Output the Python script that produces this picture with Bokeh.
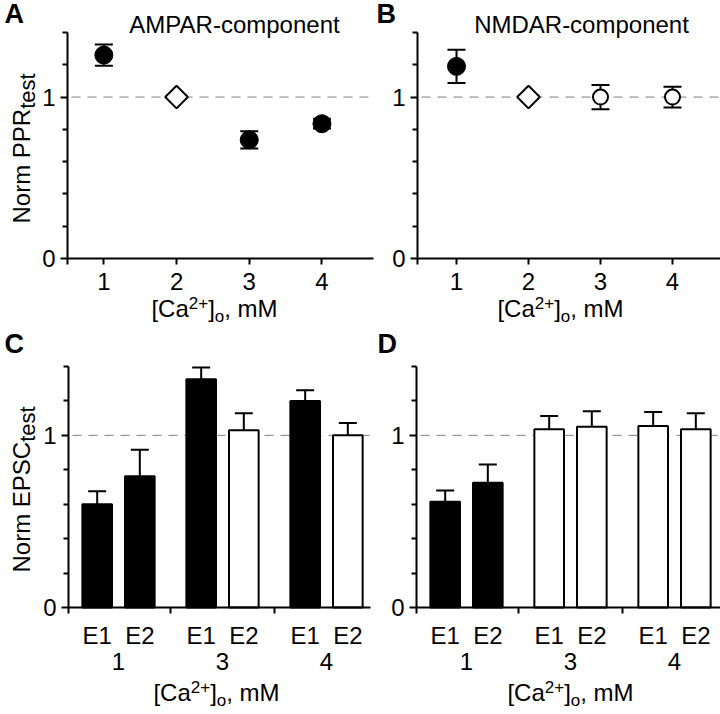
import math
from bokeh.plotting import figure
from bokeh.models import (Range1d, FixedTicker, LinearAxis, Whisker,
                          TeeHead, ColumnDataSource, Label)
from bokeh.layouts import gridplot
from bokeh.embed import file_html
from bokeh.resources import INLINE

# ---------------- data ----------------
ca_levels = [1, 2, 3, 4]            # [Ca2+]o, mM
control_level = 2                   # normalisation condition (diamond)
norm_level = 1.0

ampar_ppr = [1.26, 1.00, 0.735, 0.835]
ampar_ppr_sem = [0.066, 0.0, 0.054, 0.03]
ampar_ppr_sig = [True, False, True, True]

nmdar_ppr = [1.19, 1.00, 1.00, 1.00]
nmdar_ppr_sem = [0.103, 0.0, 0.075, 0.064]
nmdar_ppr_sig = [True, False, False, False]

epsc_groups = ["1", "3", "4"]       # [Ca2+]o, mM
epsc_stim = ["E1", "E2"]

ampar_e1 = [0.60, 1.326, 1.20]
ampar_e1_sem = [0.075, 0.068, 0.062]
ampar_e1_sig = [True, True, True]
ampar_e2 = [0.763, 1.029, 1.00]
ampar_e2_sem = [0.154, 0.10, 0.072]
ampar_e2_sig = [True, False, False]

nmdar_e1 = [0.615, 1.035, 1.055]
nmdar_e1_sem = [0.065, 0.078, 0.08]
nmdar_e1_sig = [True, False, False]
nmdar_e2 = [0.725, 1.05, 1.035]
nmdar_e2_sem = [0.105, 0.09, 0.094]
nmdar_e2_sig = [True, False, False]

y_major_ticks = [0, 1]
y_minor_ticks = [0.2, 0.4, 0.6, 0.8, 1.2, 1.4]
y_limits = (0, 1.4)

# ---------------- styling ----------------
FONT = "Liberation Sans"
TXT = 24
SUP = 17
SUB_Y = 22
MID = 0.35   # distance baseline -> middle of the em box, in em

ADV = {'[': 278, 'C': 722, 'a': 556, '2': 556, '+': 584, ']': 278, 'o': 556,
       ',': 278, ' ': 278, 'm': 833, 'M': 833, 'N': 722, 'r': 333, 'P': 667,
       'R': 722, 'E': 667, 'S': 667, 't': 278, 'e': 556, 's': 500}


def text_width(s, size):
    return sum(ADV.get(c, 556) for c in s) * size / 1000.0


def style_axis(ax):
    ax.axis_line_color = "black"
    ax.axis_line_width = 2
    ax.major_tick_line_color = "black"
    ax.major_tick_line_width = 2
    ax.minor_tick_line_color = "black"
    ax.minor_tick_line_width = 2
    ax.major_tick_in = 0
    ax.minor_tick_in = 0
    ax.major_tick_out = 6
    ax.minor_tick_out = 5
    ax.major_label_text_font = FONT
    ax.major_label_text_font_size = f"{TXT}px"
    ax.major_label_text_color = "black"


class Panel:
    """One figure; the frame fills it and the axes are pinned at fixed data places."""

    def __init__(self, ox, oy, w, h, xa, xa_px, xs, y0_px, ys, x_axis_px):
        self.xa, self.xa_px, self.xs = xa, xa_px, xs
        self.y0_px, self.ys = y0_px, ys
        xr = (self.X(ox), self.X(ox + w))
        yr = (self.Y(oy + h), self.Y(oy))
        self.xb = (self.X(x_axis_px[0]), self.X(x_axis_px[1]))
        p = figure(width=w, height=h, x_range=Range1d(*xr), y_range=Range1d(*yr),
                   output_backend="svg", toolbar_location=None, tools="",
                   min_border=0, min_border_left=0, min_border_right=0,
                   min_border_top=0, min_border_bottom=0)
        p.title.visible = False
        p.outline_line_color = None
        p.xgrid.visible = False
        p.ygrid.visible = False
        p.background_fill_color = "white"
        p.border_fill_color = "white"
        xax, yax = p.xaxis[0], p.yaxis[0]
        style_axis(xax)
        style_axis(yax)
        xax.fixed_location = y_limits[0]
        xax.bounds = self.xb
        yax.fixed_location = self.xb[0]
        yax.bounds = y_limits
        yax.ticker = FixedTicker(ticks=y_major_ticks, minor_ticks=y_minor_ticks)
        yax.major_label_standoff = 5
        yax.major_tick_out = 7
        # dashed reference line at the normalised level
        p.segment(x0=[self.xb[0]], x1=[self.xb[1]], y0=[norm_level], y1=[norm_level],
                  line_color="#808080", line_width=1, line_dash="9 7",
                  line_dash_offset=-4, level="underlay")
        self.p = p

    def X(self, px):
        return self.xa + (px - self.xa_px) / self.xs

    def Y(self, py):
        return (self.y0_px - py) / self.ys

    def label(self, px, py, text, size, bold=False, align="left", angle=0.0):
        """(px, py) is the baseline anchor on the page; Bokeh is given the em middle."""
        shift = MID * size
        if angle:
            px, py = px - shift, py
        else:
            px, py = px, py - shift
        self.p.add_layout(Label(x=self.X(px), y=self.Y(py), text=text,
                                text_font=FONT, text_font_size=f"{size}px",
                                text_font_style="bold" if bold else "normal",
                                text_align=align, text_baseline="middle",
                                text_color="black", angle=angle))


def ca_axis_label(panel, center_px, base_py):
    pieces = [("[Ca", TXT, 0), ("2+", SUP, -8), ("]", TXT, 0), ("o", SUP, 6), (", mM", TXT, 0)]
    total = sum(text_width(t, s) for t, s, _ in pieces)
    x = center_px - total / 2
    for t, s, dy in pieces:
        panel.label(x, base_py + dy, t, s)
        x += text_width(t, s)


def y_label(panel, base_px, start_py, main):
    panel.label(base_px, start_py, main, TXT, angle=math.pi / 2)
    panel.label(base_px + 6, start_py - text_width(main, TXT), "test", SUB_Y, angle=math.pi / 2)


def head():
    return TeeHead(size=18, line_width=2, line_color="black")


def ppr_panel(panel, values, sems, sig):
    p = panel.p
    n = len(ca_levels)
    err = [i for i in range(n) if sems[i] > 0]
    src = ColumnDataSource(dict(base=[ca_levels[i] for i in err],
                                upper=[values[i] + sems[i] for i in err],
                                lower=[values[i] - sems[i] for i in err]))
    p.add_layout(Whisker(source=src, base="base", upper="upper", lower="lower",
                         line_width=2, line_color="black",
                         upper_head=head(), lower_head=head(), level="underlay"))
    ctrl = [i for i in range(n) if ca_levels[i] == control_level]
    filled = [i for i in range(n) if sig[i] and i not in ctrl]
    hollow = [i for i in range(n) if not sig[i] and i not in ctrl]
    p.scatter(x=[ca_levels[i] for i in filled], y=[values[i] for i in filled],
              marker="circle", size=18, fill_color="black", line_color="black")
    if hollow:
        p.scatter(x=[ca_levels[i] for i in hollow], y=[values[i] for i in hollow],
                  marker="circle", size=15, fill_color="white", line_color="black", line_width=2)
    p.scatter(x=[ca_levels[i] for i in ctrl], y=[values[i] for i in ctrl],
              marker="square", angle=math.pi / 4, size=16,
              fill_color="white", line_color="black", line_width=2)
    ax = p.xaxis[0]
    ax.ticker = FixedTicker(ticks=ca_levels, minor_ticks=[panel.xb[0]])
    ax.minor_tick_out = 6
    ax.major_label_standoff = 8


def epsc_panel(panel, e1, e1s, e1sig, e2, e2s, e2sig):
    p = panel.p
    gx = list(range(len(epsc_groups)))
    off = 0.205
    xs1 = [g - off for g in gx]
    xs2 = [g + off for g in gx]
    for xs, vals, sig in ((xs1, e1, e1sig), (xs2, e2, e2sig)):
        src = ColumnDataSource(dict(x=xs, top=vals,
                                    fill=["black" if s else "white" for s in sig]))
        p.vbar(x="x", top="top", bottom=0, width=0.285, fill_color="fill",
               line_color="black", line_width=2, source=src)
    src = ColumnDataSource(dict(base=xs1 + xs2,
                                upper=[v + s for v, s in zip(e1 + e2, e1s + e2s)],
                                lower=[v - s for v, s in zip(e1 + e2, e1s + e2s)]))
    p.add_layout(Whisker(source=src, base="base", upper="upper", lower="lower",
                         line_width=2, line_color="black",
                         upper_head=head(), lower_head=head()))
    ax = p.xaxis[0]
    seps = [panel.xb[0]] + [g + 0.5 for g in gx[:-1]]
    ax.ticker = FixedTicker(ticks=sorted(xs1 + xs2), minor_ticks=seps)
    overrides = {}
    for x in xs1:
        overrides[x] = epsc_stim[0]
    for x in xs2:
        overrides[x] = epsc_stim[1]
    ax.major_label_overrides = overrides
    ax.major_tick_line_color = None
    ax.major_tick_out = 0
    ax.minor_tick_out = 6
    ax.major_label_standoff = 8
    ax2 = LinearAxis(ticker=FixedTicker(ticks=gx),
                     major_label_overrides={g: epsc_groups[g] for g in gx})
    style_axis(ax2)
    ax2.fixed_location = y_limits[0]
    ax2.bounds = panel.xb
    ax2.axis_line_color = None
    ax2.major_tick_line_color = None
    ax2.minor_tick_line_color = None
    ax2.major_tick_out = 0
    ax2.minor_tick_out = 0
    ax2.major_label_standoff = 45
    p.add_layout(ax2, "below")


# ---------------- panels (page coordinates, page origin at 0,0) ----------------
A = Panel(0, 0, 376, 330, 0.5, 67, 72.7, 258, 226 / 1.4, (67, 373))
B = Panel(376, 0, 344, 330, 1.0, 456, 72.0, 258, 226 / 1.4, (417, 720))
C = Panel(0, 330, 376, 384, 0.0, 118, 104.0, 607, 241 / 1.4, (68, 370))
D = Panel(376, 330, 344, 384, 0.0, 466, 104.0, 607, 241 / 1.4, (416, 720))

ppr_panel(A, ampar_ppr, ampar_ppr_sem, ampar_ppr_sig)
ppr_panel(B, nmdar_ppr, nmdar_ppr_sem, nmdar_ppr_sig)
epsc_panel(C, ampar_e1, ampar_e1_sem, ampar_e1_sig, ampar_e2, ampar_e2_sem, ampar_e2_sig)
epsc_panel(D, nmdar_e1, nmdar_e1_sem, nmdar_e1_sig, nmdar_e2, nmdar_e2_sem, nmdar_e2_sig)

# panel letters
A.label(4, 23, "A", 27, bold=True)
B.label(376, 23, "B", 27, bold=True)
C.label(4, 353, "C", 27, bold=True)
D.label(377, 353, "D", 27, bold=True)

# titles
A.label(234, 32, "AMPAR-component", TXT, align="center")
B.label(581, 32, "NMDAR-component", TXT, align="center")

# y labels
y_label(A, 29, 223, "Norm PPR")
y_label(C, 29, 572, "Norm EPSC")

# x labels
ca_axis_label(A, 214, 316)
ca_axis_label(B, 560, 316)
ca_axis_label(C, 216, 700)
ca_axis_label(D, 570, 700)

grid = gridplot([[A.p, B.p], [C.p, D.p]], toolbar_location=None)

with open("out.html", "w") as f:
    f.write(file_html(grid, INLINE))
